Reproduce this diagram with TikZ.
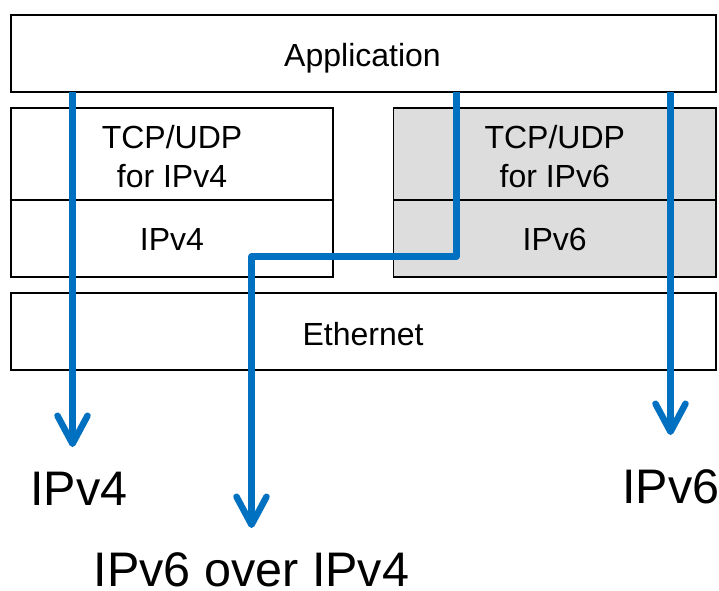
\documentclass[tikz,border=0pt]{standalone}
\usepackage{fontspec}
\setmainfont{Liberation Sans}
\usetikzlibrary{arrows.meta}
\definecolor{flowblue}{HTML}{0070C0}
\definecolor{v6gray}{HTML}{DDDDDD}
\begin{document}
\begin{tikzpicture}[x=1pt,y=-1pt,
  layer/.style={draw=black, line width=1.5pt, inner sep=0pt, outer sep=0pt},
  lbl/.style={inner sep=0pt, font=\fontsize{32}{39}\selectfont, align=center},
  big/.style={inner sep=0pt, font=\fontsize{48.5}{58}\selectfont, anchor=base west},
  flow/.style={draw=flowblue, line width=6.5pt, line join=round,
    -{Straight Barb[length=28pt, width=30pt, line cap=round, round]}}]
\useasboundingbox (0,0) rectangle (719,590);
% layers
\node[layer, minimum width=705pt, minimum height=77pt] (app) at (363.5,53.5) {};
\node[layer, minimum width=322pt, minimum height=92pt] (tcp4) at (172,154) {};
\node[layer, minimum width=322pt, minimum height=77pt] (ip4) at (172,238.5) {};
\node[layer, fill=v6gray, minimum width=322.5pt, minimum height=92pt] (tcp6) at (554.75,154) {};
\node[layer, fill=v6gray, minimum width=322.5pt, minimum height=77pt] (ip6) at (554.75,238.5) {};
\node[layer, minimum width=705pt, minimum height=77pt] (eth) at (363.5,331.5) {};
% layer texts
\node[lbl, anchor=base] (tapp) at (362.5,66.5) {Application};
\node[lbl, anchor=base] (ttcp4a) at (172,148) {TCP/UDP};
\node[lbl, anchor=base] (ttcp4b) at (172,187) {for IPv4};
\node[lbl, anchor=base] (tip4) at (172,250) {IPv4};
\node[lbl, anchor=base] (ttcp6a) at (554.75,148) {TCP/UDP};
\node[lbl, anchor=base] (ttcp6b) at (554.75,187) {for IPv6};
\node[lbl, anchor=base] (tip6) at (554.75,250) {IPv6};
\node[lbl, anchor=base] (teth) at (363,345) {Ethernet};
% flows
\coordinate (t1) at (72.5,447);
\coordinate (k1) at (456.5,256.5);
\coordinate (t2) at (251.5,528);
\coordinate (t3) at (670.5,435);
\draw[flow] (app.south -| t1) -- (t1);
\draw[flow] (app.south -| k1) -- (k1) -- (k1 -| t2) -- (t2);
\draw[flow] (app.south -| t3) -- (t3);
% result labels
\node[big] (r4) at (30,505.5) {IPv4};
\node[big] (r64) at (93.5,586) {IPv6 over IPv4};
\node[big] (r6) at (622,503) {IPv6};
\end{tikzpicture}
\end{document}
